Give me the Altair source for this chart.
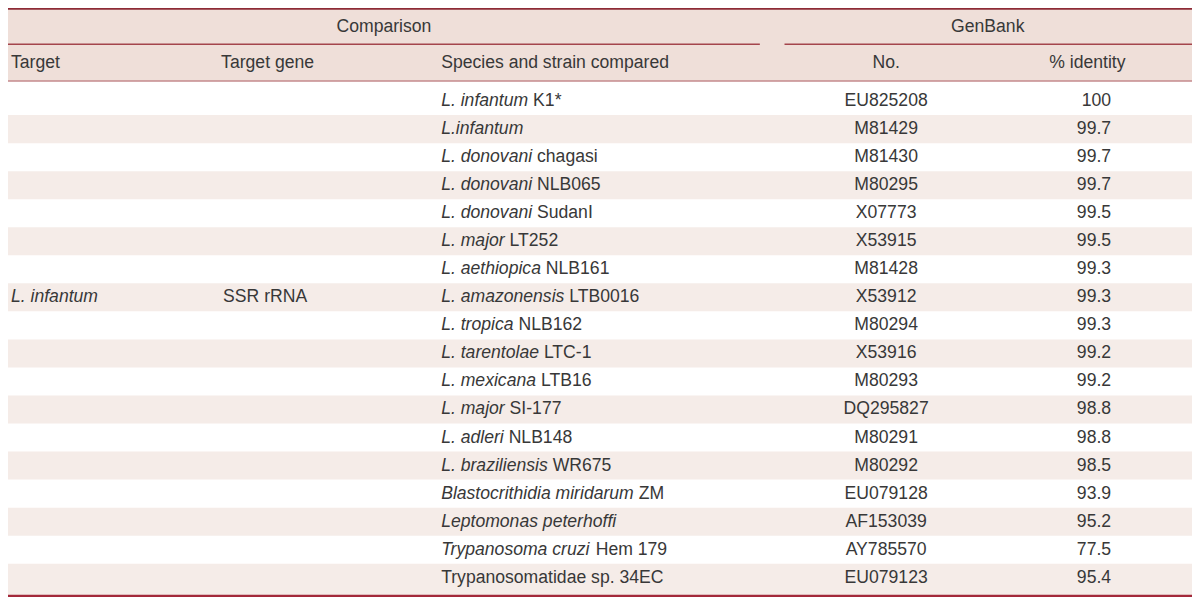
import altair as alt
import pandas as pd

# ---- table content ----
header_top = ["Comparison", "GenBank"]
header_cols = ["Target", "Target gene", "Species and strain compared", "No.", "% identity"]
target = "L. infantum"
target_gene = "SSR rRNA"
species_italic = [
    "L. infantum", "L.infantum", "L. donovani", "L. donovani", "L. donovani",
    "L. major", "L. aethiopica", "L. amazonensis", "L. tropica", "L. tarentolae",
    "L. mexicana", "L. major", "L. adleri", "L. braziliensis",
    "Blastocrithidia miridarum", "Leptomonas peterhoffi", "Trypanosoma cruzi", "",
]
species_roman = [
    "K1*", "", "chagasi", "NLB065", "SudanI",
    "LT252", "NLB161", "LTB0016", "NLB162", "LTC-1",
    "LTB16", "SI-177", "NLB148", "WR675",
    "ZM", "", "Hem 179", "Trypanosomatidae sp. 34EC",
]
genbank_no = [
    "EU825208", "M81429", "M81430", "M80295", "X07773", "X53915", "M81428",
    "X53912", "M80294", "X53916", "M80293", "DQ295827", "M80291", "M80292",
    "EU079128", "AF153039", "AY785570", "EU079123",
]
identity = [100, 99.7, 99.7, 99.7, 99.5, 99.5, 99.3, 99.3, 99.3, 99.2, 99.2,
            98.8, 98.8, 98.5, 93.9, 95.2, 77.5, 95.4]

# ---- layout ----
W, H = 1184, 589
REF_W, REF_H = 1200, 605
FS = 17.6
FONT = "Liberation Sans"
TXT = "#383838"
HEAD_FILL = "#efdfd9"
ROW_FILL = "#f5ece8"
ROW0, ROWH = 95.6, 28.8
BOTTOM = 603.5

xs = alt.Scale(domain=[0, REF_W], range=[0, W], nice=False, zero=False)
ys = alt.Scale(domain=[0, REF_H], range=[0, H], nice=False, zero=False)
EM = FS * REF_W / W  # reference units per em

# Arial / Liberation Sans advance widths (1/1000 em), same for italic
AW = {" ": 278, ".": 278, "*": 389, "-": 333}
AW.update({d: 556 for d in "0123456789"})
AW.update(dict(zip("ABCDEFGHIJKLMNOPQRSTUVWXYZ",
                   [667, 667, 722, 722, 667, 611, 778, 722, 278, 500, 667, 556, 833,
                    722, 778, 667, 778, 722, 667, 611, 722, 667, 944, 667, 667, 611])))
AW.update(dict(zip("abcdefghijklmnopqrstuvwxyz",
                   [556, 556, 500, 556, 556, 278, 556, 556, 222, 222, 500, 222, 833,
                    556, 556, 556, 556, 333, 500, 278, 556, 500, 722, 500, 500, 500])))


def text_w(s):
    return sum(AW.get(c, 556) for c in s) / 1000.0 * EM


n = len(genbank_no)
centers = [ROW0 + i * ROWH for i in range(n)]

X_SPEC = 439
X_NO = 890
X_ID = 1118

rows = pd.DataFrame({
    "y": centers,
    "ital": species_italic,
    "rom": species_roman,
    "no": genbank_no,
    "ident": [str(v) for v in identity],
})
rows["xi"] = X_SPEC
rows["xr"] = [X_SPEC + (text_w(a + " ") if a else 0) for a in species_italic]
rows["xn"] = X_NO
rows["xd"] = X_ID


def enc(xf="x", yf="y"):
    return dict(x=alt.X(f"{xf}:Q", scale=xs, axis=None),
                y=alt.Y(f"{yf}:Q", scale=ys, axis=None))


# shaded bands
bands = pd.DataFrame({
    "x": [0] * (n // 2 + 1),
    "x2": [REF_W] * (n // 2 + 1),
    "y": [1] + [centers[i] - ROWH / 2 for i in range(1, n, 2)],
    "y2": [75] + [min(centers[i] + ROWH / 2, BOTTOM) if i < n - 1 else BOTTOM
                  for i in range(1, n, 2)],
    "kind": ["head"] + ["row"] * (n // 2),
})
band_layer = alt.Chart(bands).mark_rect().encode(
    x=alt.X("x:Q", scale=xs, axis=None), x2="x2",
    y=alt.Y("y:Q", scale=ys, axis=None), y2="y2",
    color=alt.Color("kind:N", scale=alt.Scale(domain=["head", "row"],
                                               range=[HEAD_FILL, ROW_FILL]),
                    legend=None),
)


def hline(x0, x1, y, color, width):
    return alt.Chart(pd.DataFrame({"x": [x0], "x2": [x1], "y": [y]})).mark_rule(
        color=color, strokeWidth=width).encode(
        x=alt.X("x:Q", scale=xs, axis=None), x2="x2",
        y=alt.Y("y:Q", scale=ys, axis=None))


lines = [
    hline(0, REF_W, 0.8, "#8e2b36", 2),
    hline(0, 762, 37.3, "#a4454c", 1.4),
    hline(787, REF_W, 37.3, "#a4454c", 1.4),
    hline(0, REF_W, 75, "#c48a8d", 1.6),
    hline(0, REF_W, 604, "#a3293a", 2.4),
]


def tlayer(df, field, align="left", style="normal", xf="x"):
    return alt.Chart(df).mark_text(
        align=align, baseline="middle", font=FONT, fontSize=FS,
        fontStyle=style, color=TXT).encode(text=f"{field}:N", **enc(xf))


head1 = pd.DataFrame({"x": [381, 993], "y": [19.5, 19.5], "t": header_top})
head2_left = pd.DataFrame({"x": [3, 216, 439], "y": [56.5] * 3, "t": header_cols[:3]})
head2_center = pd.DataFrame({"x": [890, 1094], "y": [56.5] * 2, "t": header_cols[3:]})
mid = centers[7]
tgt_it = pd.DataFrame({"x": [3], "y": [mid], "t": [target]})
tgt_gene = pd.DataFrame({"x": [218], "y": [mid], "t": [target_gene]})

texts = [
    tlayer(head1, "t", "center"),
    tlayer(head2_left, "t", "left"),
    tlayer(head2_center, "t", "center"),
    tlayer(tgt_it, "t", "left", "italic"),
    tlayer(tgt_gene, "t", "left"),
    tlayer(rows, "ital", "left", "italic", "xi"),
    tlayer(rows, "rom", "left", "normal", "xr"),
    tlayer(rows, "no", "center", "normal", "xn"),
    tlayer(rows, "ident", "right", "normal", "xd"),
]

chart = alt.layer(band_layer, *lines, *texts).properties(
    width=W, height=H, padding=0, autosize=alt.AutoSizeParams(type="none"),
    background="white",
).configure_view(stroke=None)

chart.save("out.html", embed_options={"renderer": "svg", "actions": False})
